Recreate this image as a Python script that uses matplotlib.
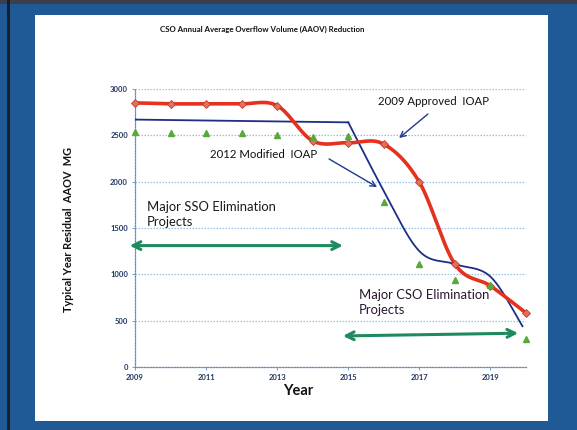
import matplotlib
matplotlib.use("Agg")
import matplotlib.pyplot as plt
import numpy as np
from matplotlib.patches import Rectangle

plt.rcParams['font.family'] = ['Lato', 'DejaVu Sans']

# ---- data ----
years = [2009, 2010, 2011, 2012, 2013, 2014, 2015, 2016, 2017, 2018, 2019, 2020]
modified_2012 = [2850, 2840, 2840, 2840, 2820, 2440, 2420, 2405, 1995, 1110, 875, 583]
actual_pts = [2536, 2530, 2530, 2530, 2504, 2485, 2490, 1780, 1111, 940, 880, 302]
approved_years_flat = [2009, 2015]
approved_flat = [2670, 2640]
approved_years_drop = [2015, 2016, 2017, 2018, 2019, 2019.9]
approved_drop = [2640, 1900, 1250, 1110, 975, 440]

xticks = [2009, 2011, 2013, 2015, 2017, 2019]
yticks = [0, 500, 1000, 1500, 2000, 2500, 3000]


def catmull(xs, ys, n=30):
    xs = np.asarray(xs, float); ys = np.asarray(ys, float)
    px = np.concatenate([[xs[0]], xs, [xs[-1]]])
    py = np.concatenate([[ys[0]], ys, [ys[-1]]])
    ox, oy = [], []
    t = np.linspace(0, 1, n)
    for i in range(1, len(px) - 2):
        for P, out in ((px, ox), (py, oy)):
            p0, p1, p2, p3 = P[i - 1], P[i], P[i + 1], P[i + 2]
            v = 0.5 * ((2 * p1) + (-p0 + p2) * t + (2 * p0 - 5 * p1 + 4 * p2 - p3) * t ** 2
                       + (-p0 + 3 * p1 - 3 * p2 + p3) * t ** 3)
            out.extend(v)
    return np.array(ox), np.array(oy)


W, H = 577, 430
fig = plt.figure(figsize=(W / 100, H / 100), dpi=100)
fig.patch.set_facecolor('#1f5a96')
# white slide panel
fig.add_artist(Rectangle((35 / W, 1 - 421 / H), (548 - 35) / W, (421 - 15) / H,
                         transform=fig.transFigure, facecolor='white', edgecolor='none', zorder=0))
fig.add_artist(Rectangle((0, 1 - 4 / H), 1, 4 / H, transform=fig.transFigure,
                         facecolor='#3a3f4a', edgecolor='none', zorder=0))
fig.add_artist(Rectangle((7 / W, 0), 3 / W, 1, transform=fig.transFigure,
                         facecolor='#15202e', edgecolor='none', zorder=0))

ax = fig.add_axes([135 / W, 1 - 367 / H, (526 - 135) / W, (367 - 89) / H])
ax.set_facecolor('none')
ax.set_xlim(2009, 2020)
ax.set_ylim(0, 3000)

for y in yticks[1:]:
    ax.axhline(y, color='#9cc0df', lw=0.9, ls=(0, (1.2, 1.2)), zorder=1)

for s in ['top', 'right']:
    ax.spines[s].set_visible(False)
for s in ['left', 'bottom']:
    ax.spines[s].set_color('#5b8fc8')
    ax.spines[s].set_linestyle((0, (1.2, 1.2)))
    ax.spines[s].set_linewidth(0.9)

ax.set_xticks(xticks)
ax.set_yticks(yticks)
ax.tick_params(length=2, width=0.6, color='#5b8fc8', labelsize=5.5, labelcolor='#1f3560', pad=3)
for lab in ax.get_xticklabels() + ax.get_yticklabels():
    lab.set_fontweight('bold')

# blue approved line
ax.plot(approved_years_flat, approved_flat, color='#1b2f86', lw=1.3, zorder=3)
bx, by = catmull(approved_years_drop, approved_drop)
ax.plot(bx, by, color='#1b2f86', lw=1.3, zorder=3)

# red modified line
rx, ry = catmull(years, modified_2012)
ax.plot(rx, ry, color='#e6321c', lw=2.6, zorder=4)
ax.plot(years, modified_2012, ls='none', marker='D', ms=4.2, mfc='#e07060', mec='#c43a2c',
        mew=0.6, zorder=5, clip_on=False)

# green triangles
ax.plot(years, actual_pts, ls='none', marker='^', ms=4, color='#58a83a', zorder=6, clip_on=False)

# green double arrows
ax.annotate('', xy=(2008.85, 1310), xytext=(2014.85, 1310),
            arrowprops=dict(arrowstyle='<->', color='#1e8a5e', lw=2.2, mutation_scale=14,
                            shrinkA=0, shrinkB=0), annotation_clip=False)
ax.annotate('', xy=(2014.85, 335), xytext=(2019.78, 365),
            arrowprops=dict(arrowstyle='<->', color='#1e8a5e', lw=2.2, mutation_scale=14,
                            shrinkA=0, shrinkB=0), annotation_clip=False)

# blue pointer arrows
ax.annotate('', xy=(2016.43, 2471), xytext=(2017.24, 2730),
            arrowprops=dict(arrowstyle='->', color='#1f3a8a', lw=1.0, shrinkA=0, shrinkB=0))
ax.annotate('', xy=(2015.81, 1942), xytext=(2014.46, 2245),
            arrowprops=dict(arrowstyle='->', color='#1f3a8a', lw=1.0, shrinkA=0, shrinkB=0))

# annotations
ax.text(2015.84, 2870, '2009 Approved  IOAP', fontsize=8.2, va='center', ha='left', color='#111111')
ax.text(2011.11, 2288, '2012 Modified  IOAP', fontsize=8.2, va='center', ha='left', color='#111111')
ax.text(2009.34, 1646, 'Major SSO Elimination\nProjects', fontsize=9.4, va='center', ha='left',
        color='#1a1a1a', linespacing=1.3)
ax.text(2015.3, 701, 'Major CSO Elimination\nProjects', fontsize=9.4, va='center', ha='left',
        color='#2a1630', linespacing=1.3)

fig.text(262 / W, 1 - 29 / H, 'CSO Annual Average Overflow Volume (AAOV) Reduction',
         fontsize=5.7, fontweight='bold', ha='center', va='center', color='#111111')
fig.text(68 / W, 1 - 229 / H, 'Typical Year Residual  AAOV  MG', fontsize=7.9, fontweight='bold',
         rotation=90, ha='center', va='center', color='#111111')
fig.text(298 / W, 1 - 391 / H, 'Year', fontsize=10.5, fontweight='bold', ha='center', va='center',
         color='#111111')

fig.savefig('out.png', dpi=100, facecolor=fig.get_facecolor())
